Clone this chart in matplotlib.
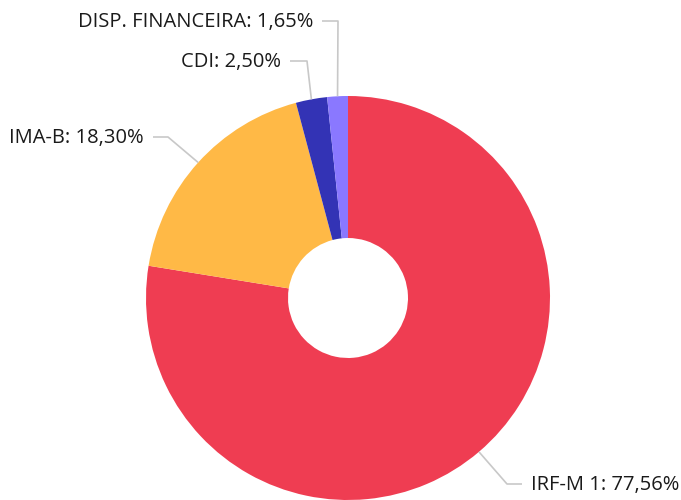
import numpy as np
import matplotlib
matplotlib.use("Agg")
import matplotlib.pyplot as plt

plt.rcParams['font.family'] = ['Open Sans', 'DejaVu Sans']

rotulos = ['IRF-M 1', 'IMA-B', 'CDI', 'DISP. FINANCEIRA']
valores = [77.56, 18.30, 2.50, 1.65]
cores = ['#EF3D52', '#FFB946', '#3333B5', '#8A78FF']

W, H = 681, 500
cx, cy, R = 348, 298, 202   # centro e raio em pixels (y de cima)

fig = plt.figure(figsize=(W / 100, H / 100), dpi=100)
ax = fig.add_axes([0, 0, 1, 1])

wedges, _ = ax.pie(valores, colors=cores, startangle=90, counterclock=False,
                   center=(cx, H - cy), radius=R,
                   wedgeprops=dict(width=R * 0.703, linewidth=0))

# o pie redefine os limites, entao ajusta depois
ax.set_xlim(0, W)
ax.set_ylim(0, H)
ax.set_aspect('equal')
ax.axis('off')

# cotovelo da linha-guia, fim do trecho horizontal e lado do texto (pixels)
cotovelos = [(507, 484), (168, 137), (307, 61), (338, 21)]
fim_linha = [522, 153, 290, 322]
lados = ['left', 'right', 'right', 'right']

for w, nome, v, (ex, ey), fx, lado in zip(wedges, rotulos, valores, cotovelos, fim_linha, lados):
    ang = np.radians((w.theta1 + w.theta2) / 2)
    px = cx + R * np.cos(ang)
    py = H - cy + R * np.sin(ang)
    ax.plot([px, ex, fx], [py, H - ey, H - ey], color='#c8c8c8', lw=1.2,
            solid_capstyle='butt', clip_on=False)
    tx = fx + 9 if lado == 'left' else fx - 9
    pct = f'{v:.2f}'.replace('.', ',')
    ax.text(tx, H - ey - 1, f'{nome}: {pct}%', ha=lado, va='center',
            fontsize=14.5, color='#1a1a1a')

fig.savefig('out.png', dpi=100)
